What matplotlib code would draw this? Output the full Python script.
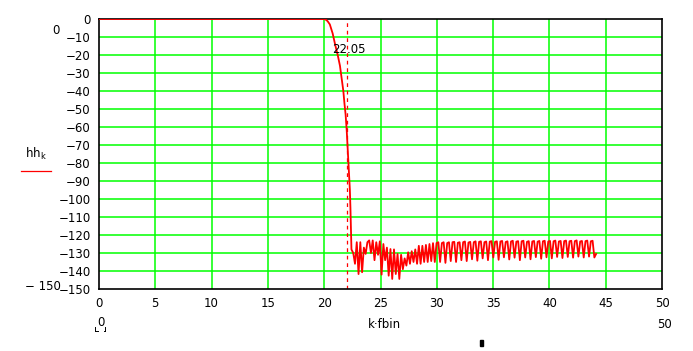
import numpy as np
import matplotlib
matplotlib.use("Agg")
import matplotlib.pyplot as plt
from matplotlib.lines import Line2D
from matplotlib.patches import Rectangle

# ---- data ----
# passband / transition band (frequency, dB)
pass_f = [0.0, 20.0, 20.15, 20.3, 20.5, 20.75, 21.0, 21.2, 21.4, 21.55, 21.7,
          21.8, 21.9, 22.0, 22.05, 22.1, 22.15, 22.2, 22.28, 22.33, 22.37, 22.40]
pass_hh = [0.0, 0.0, -0.4, -1.2, -3.0, -8.0, -15.0, -20.0, -26.0, -33.0, -40.0,
           -47.0, -53.0, -62.0, -68.0, -74.0, -80.0, -87.0, -95.0, -105.0, -115.0, -122.0]

# stopband samples (dB), evenly spaced in frequency
stop_start = 22.42
stop_end = 44.15
stop_hh = [
    -128, -130, -136, -124, -141.7, -124, -140.7, -127, -130.5, -124,
    -123, -130, -123, -134, -124, -131, -123.5, -142, -125, -134,
    -127, -142.6, -127.8, -144.4, -128, -141.7, -130.5, -144.4, -131, -139,
    -133, -137, -129.6, -136, -129, -135, -128, -136, -126, -136,
    -126, -135, -125.5, -135, -125, -134.5, -124.5, -135, -124.5, -124,
    -135,
    -124.5, -124, -135.5, -124.5, -124, -134.5, -124, -123.8, -135, -124.3, -124, -134,
    -124, -123.6, -134.5, -124.2, -123.8, -133.5, -124, -123.5, -134.3, -123.8, -123.5, -133,
    -124, -123.6, -134, -123.7, -123.4, -132.5, -123.8, -123.5, -133.8, -123.6, -123.3, -132.4,
    -123.9, -123.5, -133.6, -123.6, -123.2, -132.6, -123.7, -123.4, -134, -123.5, -123.2, -132.5,
    -123.8, -123.4, -133.5, -123.6, -123.3, -132.3, -123.7, -123.3, -133.2, -123.5, -123.2, -132.4,
    -123.6, -123.3, -133, -123.5, -123.1, -132.2, -123.6, -123.3, -132.8, -123.4, -123.1, -132.2,
    -123.5, -123.2, -132.6, -123.4, -123.0, -132.0, -123.6, -123.3, -132.5, -123.4, -123.1, -132.0,
    -123.5, -123.2, -132.5, -130.5,
]
stop_f = np.linspace(stop_start, stop_end, len(stop_hh))

freq = np.concatenate([pass_f, stop_f])
hh = np.concatenate([pass_hh, stop_hh])

marker_f = 22.05
x_ticks = [0, 5, 10, 15, 20, 25, 30, 35, 40, 45, 50]
y_ticks = [0, -10, -20, -30, -40, -50, -60, -70, -80, -90, -100, -110, -120, -130, -140, -150]

# ---- figure ----
W, H = 693, 351
fig = plt.figure(figsize=(W / 100, H / 100), dpi=100)
ax = fig.add_axes([99 / W, 1 - 289 / H, (662 - 99) / W, (289 - 19) / H])

grid_col = "#00ff00"
for x in x_ticks[1:-1]:
    ax.axvline(x, color=grid_col, lw=1.1, zorder=1)
for y in y_ticks[1:-1]:
    ax.axhline(y, color=grid_col, lw=1.1, zorder=1)

ax.plot(freq, hh, color="#ff0000", lw=1.3, zorder=3)
ax.axvline(marker_f, color="#ff0000", lw=0.9, ls=(0, (3, 3)), zorder=2)
ax.text(marker_f + 0.1, -17, "22.05", ha="center", va="center", fontsize=8.5, color="black", zorder=4)

ax.set_xlim(0, 50)
ax.set_ylim(-150, 0)
ax.set_xticks(x_ticks)
ax.set_yticks(y_ticks)
ax.set_yticklabels([str(v).replace("-", "\u2212") for v in y_ticks])
ax.tick_params(length=0, labelsize=8.5, pad=5.5)
ax.tick_params(axis="y", pad=6)
for s in ax.spines.values():
    s.set_color("black")
    s.set_linewidth(1.2)

# ---- extra Mathcad-style texts ----
def ftext(px, py, s, **kw):
    fig.text(px / W, 1 - py / H, s, fontsize=8.5, **kw)

ftext(56, 30, "0", ha="center", va="center")
ftext(43, 286, "\u2212 150", ha="center", va="center")
ftext(36, 154, r"hh$_{\mathregular{k}}$", ha="center", va="center")
fig.add_artist(Line2D([21 / W, 51 / W], [1 - 171 / H, 1 - 171 / H], color="#ff0000", lw=0.9))
ftext(100.5, 322, "0", ha="center", va="center")
# small placeholder brackets
for x0, dx in [(95.5, 2), (105.5, -2)]:
    fig.add_artist(Line2D([x0 / W, x0 / W], [1 - 327 / H, 1 - 330.5 / H], color="black", lw=0.7))
    fig.add_artist(Line2D([x0 / W, (x0 + dx) / W], [1 - 330.5 / H, 1 - 330.5 / H], color="black", lw=0.7))
ftext(384, 325, "k\u00b7fbin", ha="center", va="center")
ftext(665, 325, "50", ha="center", va="center")
fig.add_artist(Rectangle((479.5 / W, 1 - 346 / H), 3.2 / W, 6.5 / H, color="black", transform=fig.transFigure))

fig.savefig("out.png", dpi=100)
